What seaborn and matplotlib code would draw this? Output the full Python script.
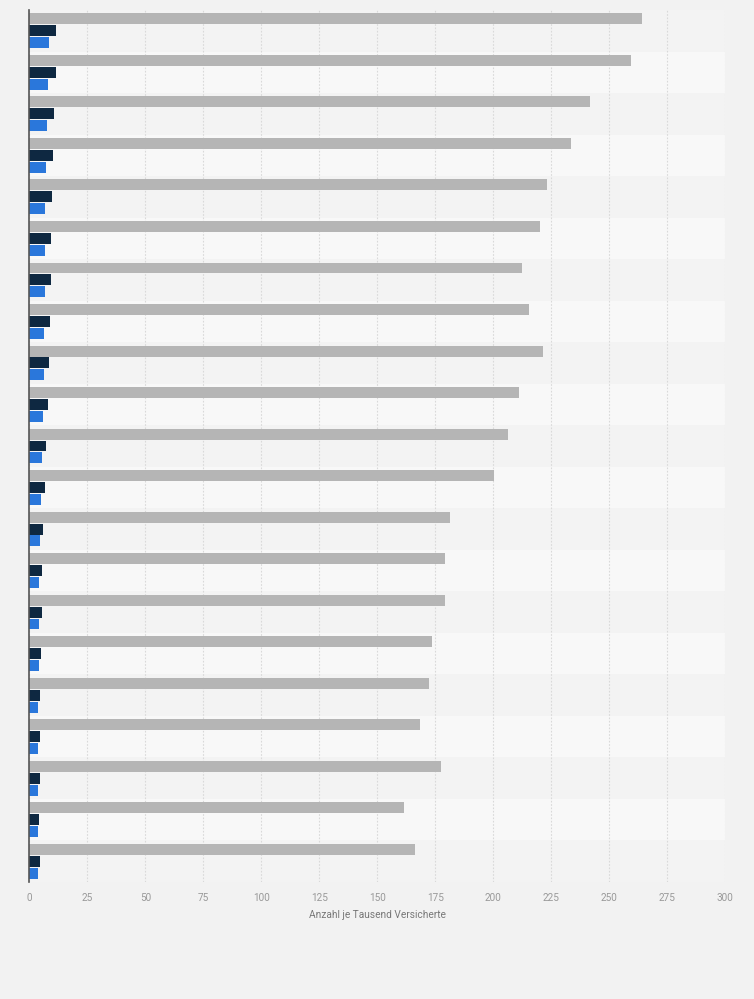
import matplotlib
matplotlib.use("Agg")
import matplotlib.pyplot as plt
import seaborn as sns
import pandas as pd

# 21 groups, top to bottom (labels are hidden in the original chart)
groups = [f"Gruppe {i}" for i in range(1, 22)]
series_names = ["Serie A", "Serie B", "Serie C"]

serie_a = [264.4, 259.3, 241.6, 233.4, 223.3, 220.3, 212.6, 215.4, 221.6, 211.1,
           206.4, 200.5, 181.4, 179.2, 179.2, 173.8, 172.5, 168.6, 177.7, 161.6,
           166.3]
serie_b = [11.4, 11.4, 10.6, 10.1, 9.7, 9.3, 9.3, 8.8, 8.4, 7.8,
           7.1, 6.7, 5.8, 5.4, 5.4, 5.0, 4.5, 4.5, 4.5, 4.1,
           4.5]
serie_c = [8.4, 8.1, 7.5, 7.0, 6.7, 6.7, 6.7, 6.3, 6.3, 5.8,
           5.4, 5.0, 4.5, 4.1, 4.1, 4.1, 3.7, 3.7, 3.7, 3.7,
           3.7]

x_ticks = [0, 25, 50, 75, 100, 125, 150, 175, 200, 225, 250, 275, 300]
x_label = "Anzahl je Tausend Versicherte"

rows = []
for name, vals in zip(series_names, [serie_a, serie_b, serie_c]):
    for g, v in zip(groups, vals):
        rows.append({"Gruppe": g, "Serie": name, "Wert": v})
df = pd.DataFrame(rows)

sns.set_style("white")
plt.rcParams["font.family"] = ["Roboto", "DejaVu Sans"]
fig = plt.figure(figsize=(7.54, 9.99), dpi=100)
fig.patch.set_facecolor("#f2f2f2")
ax = fig.add_axes([0.0391, 0.1171, 0.9224, 0.8729])
ax.set_facecolor("#f2f2f2")

# alternating row bands
for i in range(len(groups)):
    ax.axhspan(i - 0.5, i + 0.5, color="#f3f3f3" if i % 2 == 0 else "#f8f8f8",
               zorder=0, linewidth=0)

palette = {"Serie A": "#b5b5b5", "Serie B": "#0e2841", "Serie C": "#2a77db"}
sns.barplot(data=df, y="Gruppe", x="Wert", hue="Serie", order=groups,
            hue_order=series_names, palette=palette, orient="h",
            width=0.86, gap=0.08, linewidth=0, saturation=1, ax=ax, zorder=3)

ax.legend_.remove()
ax.set_xlim(0, 300)
ax.set_ylim(len(groups) - 0.5, -0.5)
ax.set_xticks(x_ticks)
ax.set_xticklabels([str(t) for t in x_ticks], fontsize=7.2, color="#999999")
ax.set_yticks([])
ax.set_ylabel("")
ax.set_xlabel(x_label, fontsize=7.3, color="#777777", labelpad=5)
ax.tick_params(axis="x", length=0, pad=8)
ax.grid(axis="x", linestyle=(0, (1.5, 1.5)), color="#d9d9d9", linewidth=0.8, zorder=1)
ax.set_axisbelow(True)
for s in ["top", "right", "bottom"]:
    ax.spines[s].set_visible(False)
ax.spines["left"].set_color("#555555")
ax.spines["left"].set_linewidth(1.2)
ax.spines["left"].set_zorder(5)

fig.savefig("out.png", dpi=100, facecolor=fig.get_facecolor())
